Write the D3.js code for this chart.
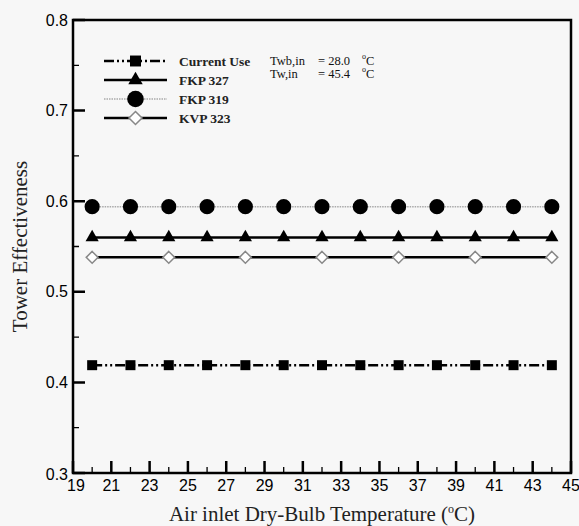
<!DOCTYPE html>
<html>
<head>
<meta charset="utf-8">
<script src="https://cdn.jsdelivr.net/npm/d3@7"></script>
<style>
  html, body { margin: 0; padding: 0; background: #f7f7f7; }
  svg { display: block; }
</style>
</head>
<body>
<script>
// Tower effectiveness vs. air inlet dry-bulb temperature
const temps = [20, 22, 24, 26, 28, 30, 32, 34, 36, 38, 40, 42, 44];
const tempsKVP = [20, 24, 28, 32, 36, 40, 44];
const currentUse = [0.419, 0.419, 0.419, 0.419, 0.419, 0.419, 0.419, 0.419, 0.419, 0.419, 0.419, 0.419, 0.419];
const fkp327 = [0.560, 0.560, 0.560, 0.560, 0.560, 0.560, 0.560, 0.560, 0.560, 0.560, 0.560, 0.560, 0.560];
const fkp319 = [0.594, 0.594, 0.594, 0.594, 0.594, 0.594, 0.594, 0.594, 0.594, 0.594, 0.594, 0.594, 0.594];
const kvp323 = [0.538, 0.538, 0.538, 0.538, 0.538, 0.538, 0.538];
const seriesNames = ["Current Use", "FKP 327", "FKP 319", "KVP 323"];
const xTicks = [19, 21, 23, 25, 27, 29, 31, 33, 35, 37, 39, 41, 43, 45];
const xMinorTicks = [20, 22, 24, 26, 28, 30, 32, 34, 36, 38, 40, 42, 44];
const yTicks = [0.3, 0.4, 0.5, 0.6, 0.7, 0.8];
const yMinorTicks = [0.35, 0.45, 0.55, 0.65, 0.75];

const W = 579, H = 526;
const m = { left: 73, right: 8, top: 20, bottom: 53 };
const serif = "Liberation Serif, Times New Roman, serif";
const sans = "Liberation Sans, Arial, sans-serif";

const svg = d3.select("body").append("svg").attr("width", W).attr("height", H);

const x = d3.scaleLinear().domain([19, 45]).range([m.left, W - m.right]);
const y = d3.scaleLinear().domain([0.3, 0.8]).range([H - m.bottom, m.top]);

const series = [
  { name: seriesNames[0], xs: temps, ys: currentUse, stroke: "#000", width: 2.5, dash: "10,3,2,3,2,3",
    symbol: d3.symbolSquare, size: 100, fill: "#000", mstroke: "none" },
  { name: seriesNames[1], xs: temps, ys: fkp327, stroke: "#000", width: 2.5, dash: null,
    symbol: d3.symbolTriangle, size: 75, fill: "#000", mstroke: "none" },
  { name: seriesNames[2], xs: temps, ys: fkp319, stroke: "#aaa", width: 1.5, dash: "1.5,1",
    symbol: d3.symbolCircle, size: 180, fill: "#000", mstroke: "none" },
  { name: seriesNames[3], xs: tempsKVP, ys: kvp323, stroke: "#000", width: 2.5, dash: null,
    symbol: d3.symbolDiamond2, size: 90, fill: "#fff", mstroke: "#888" }
];

// Inward tick marks on the left and bottom edges
const yb = H - m.bottom;
let tickD = "", minorD = "";
yTicks.forEach(v => { tickD += `M${m.left},${y(v)}h12`; });
xTicks.forEach(v => { tickD += `M${x(v)},${yb}v-12`; });
yMinorTicks.forEach(v => { minorD += `M${m.left},${y(v)}h6`; });
xMinorTicks.forEach(v => { minorD += `M${x(v)},${yb}v-6`; });
svg.append("path").attr("d", tickD).attr("fill", "none").attr("stroke", "#000").attr("stroke-width", 2.5);
svg.append("path").attr("d", minorD).attr("fill", "none").attr("stroke", "#000").attr("stroke-width", 1.3);

// Tick labels
svg.append("g").selectAll("text").data(yTicks).join("text")
  .attr("x", m.left - 5).attr("y", d => y(d) + (d === 0.3 ? 1 : 0))
  .attr("text-anchor", "end").attr("dominant-baseline", "central")
  .attr("font-family", sans).attr("font-size", 16)
  .attr("fill", "#000").text(d => d.toFixed(1));
svg.append("g").selectAll("text").data(xTicks).join("text")
  .attr("x", d => x(d) + (d === 19 ? 3 : 0)).attr("y", yb + 18)
  .attr("text-anchor", "middle")
  .attr("font-family", sans).attr("font-size", 16)
  .attr("fill", "#000").text(d => d);

// Frame
svg.append("rect").attr("x", m.left).attr("y", m.top)
  .attr("width", W - m.right - m.left).attr("height", H - m.bottom - m.top)
  .attr("fill", "none").attr("stroke", "#000").attr("stroke-width", 2.5);

// Axis titles
const xt = svg.append("text").attr("x", (m.left + W - m.right) / 2).attr("y", 521)
  .attr("text-anchor", "middle").attr("font-family", serif)
  .attr("font-size", 21).attr("fill", "#222");
xt.append("tspan").text("Air inlet Dry-Bulb Temperature (");
xt.append("tspan").attr("font-size", 12).attr("dy", -8).text("o");
xt.append("tspan").attr("dy", 8).text("C)");

svg.append("text").attr("transform", `translate(27,${(m.top + H - m.bottom) / 2}) rotate(-90)`)
  .attr("text-anchor", "middle").attr("font-family", serif)
  .attr("font-size", 21).attr("fill", "#222").text("Tower Effectiveness");

// Series lines and markers
const line = d3.line().x(d => x(d[0])).y(d => y(d[1]));
series.forEach(s => {
  const pts = s.xs.map((t, i) => [t, s.ys[i]]);
  svg.append("path").datum(pts).attr("d", line)
    .attr("fill", "none").attr("stroke", s.stroke).attr("stroke-width", s.width)
    .attr("stroke-dasharray", s.dash);
  svg.append("g").selectAll("path").data(pts).join("path")
    .attr("transform", d => `translate(${x(d[0])},${y(d[1])})`)
    .attr("d", d3.symbol().type(s.symbol).size(s.size)())
    .attr("fill", s.fill).attr("stroke", s.mstroke).attr("stroke-width", 1.5);
});

// Legend
const leg = svg.append("g");
series.forEach((s, i) => {
  const ly = 61 + i * 19;
  leg.append("line").attr("x1", 104).attr("x2", 167).attr("y1", ly).attr("y2", ly)
    .attr("stroke", s.stroke).attr("stroke-width", s.width).attr("stroke-dasharray", s.dash);
  leg.append("path").attr("transform", `translate(135.5,${ly})`)
    .attr("d", d3.symbol().type(s.symbol).size(s.size * 1.2)())
    .attr("fill", s.fill).attr("stroke", s.mstroke).attr("stroke-width", 1.5);
  leg.append("text").attr("x", 179).attr("y", ly).attr("dominant-baseline", "central")
    .attr("font-family", serif).attr("font-size", 13.5)
    .attr("font-weight", "bold").attr("fill", "#222").text(s.name);
});

// Inlet conditions note
const notes = [["Twb,in", "= 28.0"], ["Tw,in", "= 45.4"]];
notes.forEach((n, i) => {
  const ny = 60.5 + i * 13;
  svg.append("text").attr("x", 270).attr("y", ny).attr("dominant-baseline", "central")
    .attr("font-family", serif).attr("font-size", 12.5).attr("fill", "#111").text(n[0]);
  svg.append("text").attr("x", 318).attr("y", ny).attr("dominant-baseline", "central")
    .attr("font-family", serif).attr("font-size", 12.5).attr("fill", "#111").text(n[1]);
  const t = svg.append("text").attr("x", 362).attr("y", ny).attr("dominant-baseline", "central")
    .attr("font-family", serif).attr("font-size", 12.5).attr("fill", "#111");
  t.append("tspan").attr("font-size", 8).attr("dy", -5).text("o");
  t.append("tspan").attr("dy", 5).text("C");
});
</script>
</body>
</html>
